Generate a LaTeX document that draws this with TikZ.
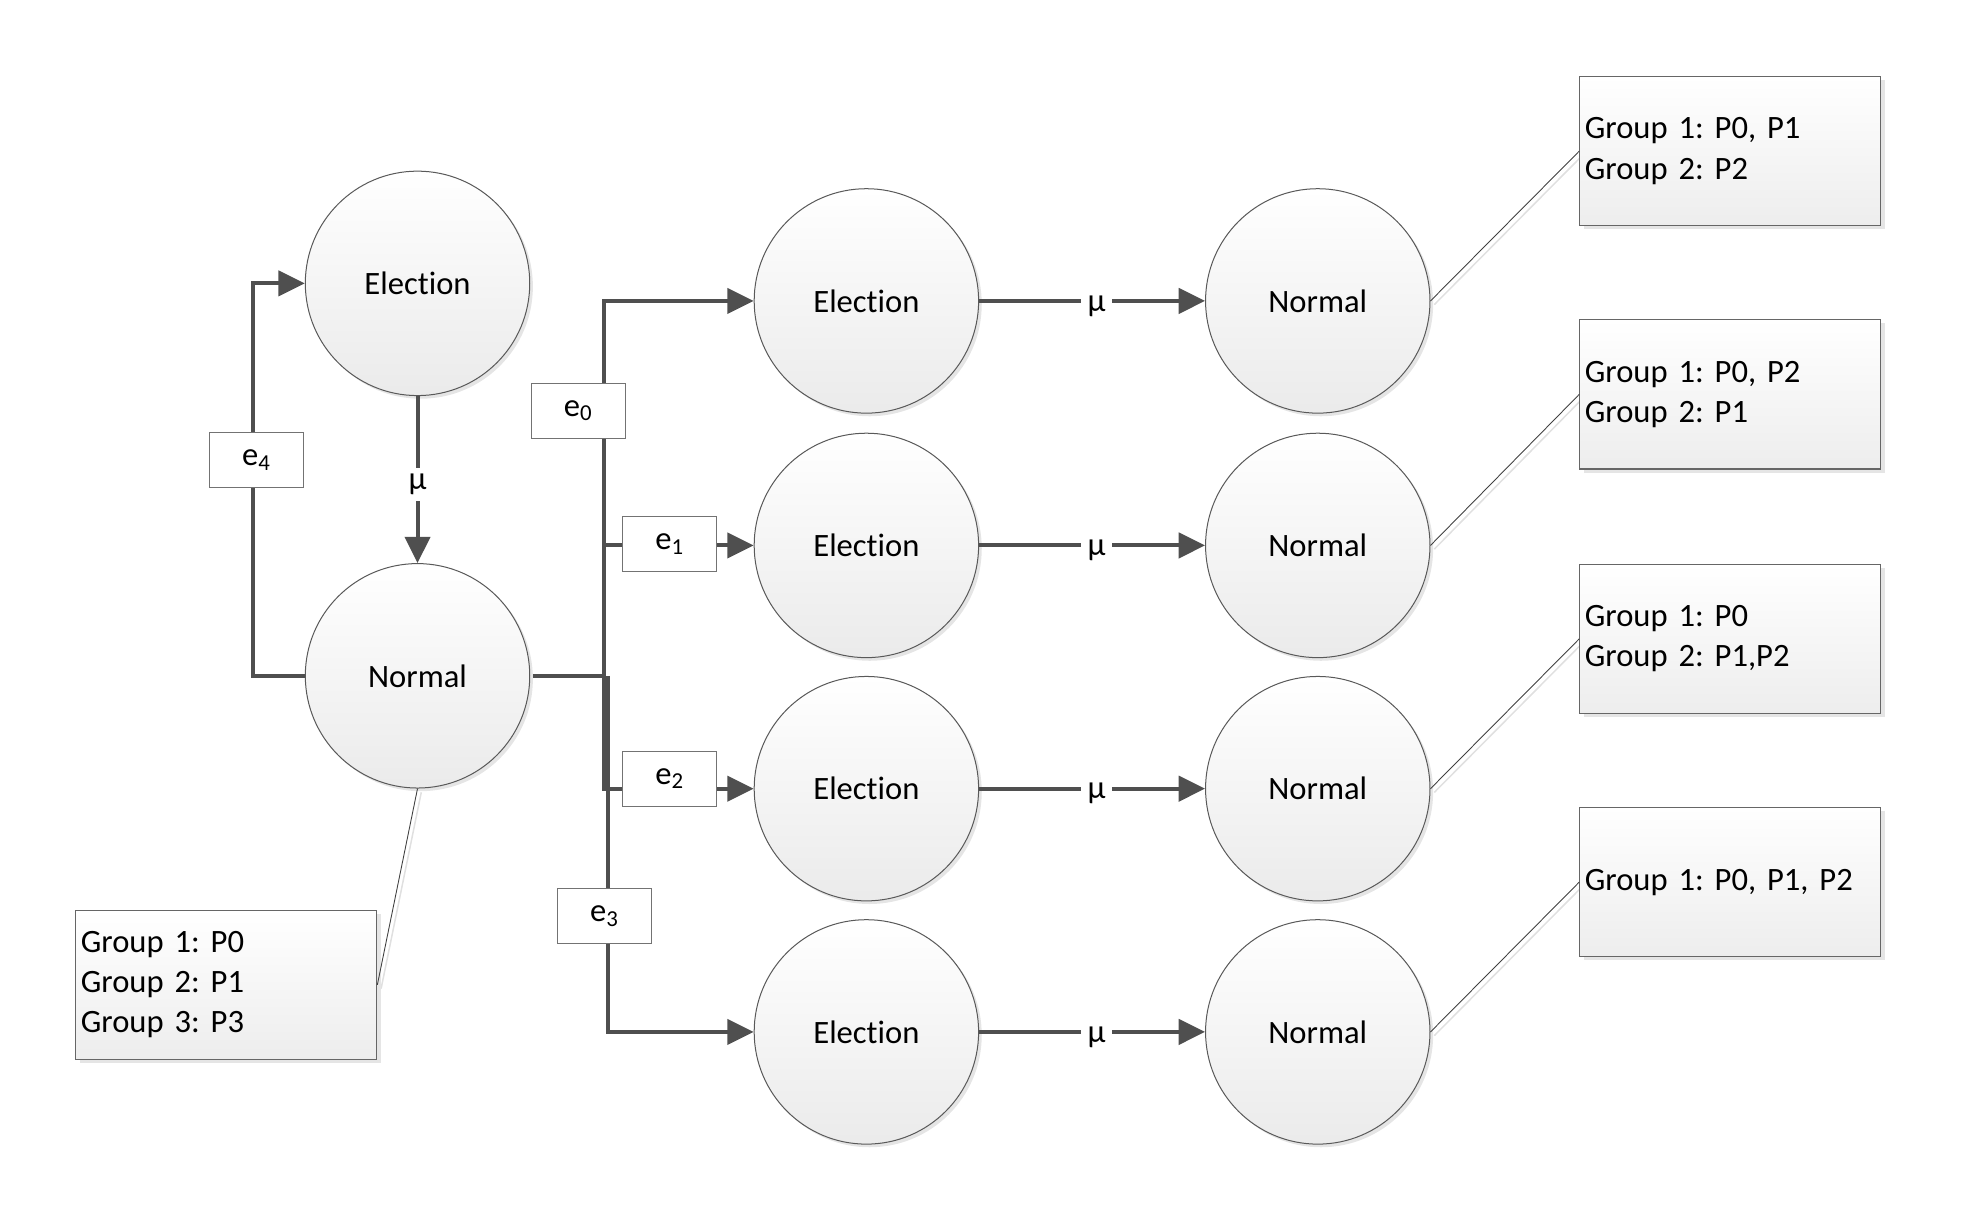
\documentclass[tikz,border=0pt]{standalone}
\usepackage{fontspec}
\setmainfont[Ligatures=NoCommon]{Carlito}
\usetikzlibrary{arrows.meta,shadows,backgrounds}
\frenchspacing
\begin{document}
\begin{tikzpicture}[x=1pt,y=-1pt,
  font=\fontsize{26}{32}\selectfont\frenchspacing,
  state/.style={circle, draw=black!65, line width=0.8pt, minimum size=179pt, inner sep=0pt,
    top color=white, bottom color=black!8,
    drop shadow={shadow xshift=2.5pt, shadow yshift=-2.5pt, fill=black!10, opacity=1}},
  evbox/.style={draw=black!55, line width=0.8pt, fill=white, minimum width=75pt, minimum height=44pt, inner sep=2pt},
  note/.style={draw=black!60, line width=0.9pt, top color=white, bottom color=black!7,
    drop shadow={shadow xshift=3pt, shadow yshift=-3pt, fill=black!10, opacity=1},
    text width=232pt, inner sep=4pt, minimum height=119pt, align=left},
  conn/.style={draw=black!69, line width=3.2pt},
  arr/.style={conn, -{Triangle[length=21pt,width=20pt]}},
  callout/.style={draw=black!75, line width=0.7pt},
  calloutshadow/.style={draw=black!12, line width=1.2pt},
  mu/.style={fill=white, inner xsep=5pt, inner ysep=3pt, yshift=-4pt}]
\useasboundingbox (0,0) rectangle (1568,982);

% states
\node[state] (eL) at (333,226) {Election};
\node[state] (nL) at (333,539) {Normal};
\foreach \i/\y in {1/240,2/435,3/629,4/823}{
  \node[state] (E\i) at (691,\y) {Election};
  \node[state] (N\i) at (1051,\y) {Normal};
}

% notes
\node[note] (b1) at (1380,120.5) {Group 1: P0, P1\\Group 2: P2};
\node[note] (b2) at (1380,314.5) {Group 1: P0, P2\\Group 2: P1};
\node[note] (b3) at (1380,509.5) {Group 1: P0\\Group 2: P1,P2};
\node[note] (b4) at (1380,703.5) {Group 1: P0, P1, P2};
\node[note] (bL) at (180.5,785.5) {Group 1: P0\\Group 2: P1\\Group 3: P3};

% event boxes
\node[evbox] (e4) at (204.5,367) {e\textsubscript{4}};
\node[evbox] (e0) at (461,327.5) {e\textsubscript{0}};
\node[evbox] (e1) at (534,434) {e\textsubscript{1}};
\node[evbox] (e2) at (534,621) {e\textsubscript{2}};
\node[evbox] (e3) at (482,730.5) {e\textsubscript{3}};

\coordinate (j) at (482,539);
\coordinate (k) at (485,539);

\begin{scope}[on background layer]
  \draw[arr] (nL.west) -- ++(-41,0) |- (eL.west);
  \draw[arr] (nL.east) -- (j) |- (E1.west);
  \draw[arr] (j) |- (E2.west);
  \draw[arr] (j) |- (E3.west);
  \draw[arr] (k) |- (E4.west);
  \foreach \i in {1,2,3,4}{
    \draw[calloutshadow] ([xshift=3pt,yshift=-3pt]N\i.east) -- ([xshift=3pt,yshift=-3pt]b\i.west);
  }
  \draw[calloutshadow] ([xshift=3pt,yshift=-3pt]nL.south) -- ([xshift=3pt,yshift=-3pt]bL.east);
\end{scope}

\draw[arr] (eL.south) -- node[mu, inner xsep=3pt, inner ysep=5pt]{μ} (nL.north);
\foreach \i in {1,2,3,4}{
  \draw[arr] (E\i.east) -- node[mu, pos=0.52]{μ} (N\i.west);
  \draw[callout] (N\i.east) -- (b\i.west);
}
\draw[callout] (nL.south) -- (bL.east);
\end{tikzpicture}
\end{document}
